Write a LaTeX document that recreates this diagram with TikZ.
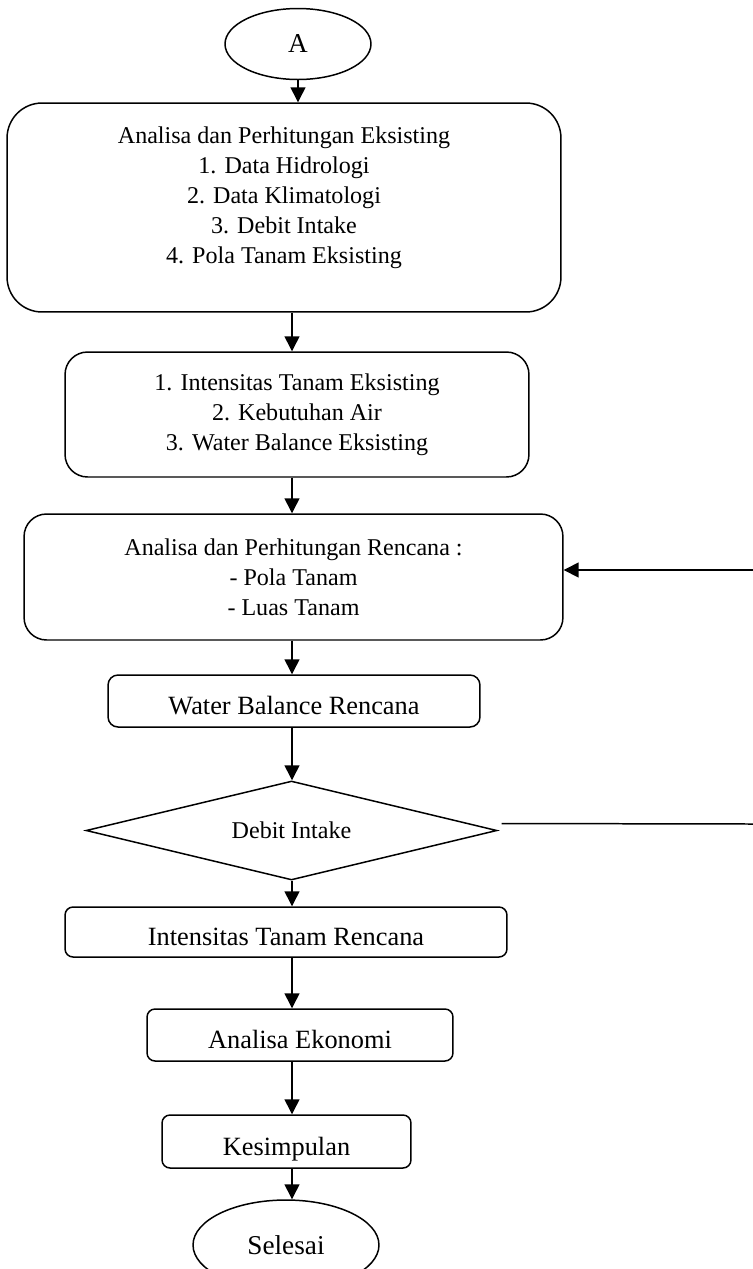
\documentclass[tikz,border=0pt]{standalone}
\usepackage{fontspec}
\setmainfont{Liberation Serif}
\usetikzlibrary{shapes.geometric,arrows.meta}

\begin{document}
\begin{tikzpicture}[x=0.02cm,y=-0.02cm,line width=0.85pt,
  flow/.style={-{Triangle[length=0.3cm,width=0.3cm]}},
  box/.style={draw,rounded corners=#1,inner sep=0pt},
  box/.default=0.16cm,
  term/.style={draw,ellipse,inner sep=0pt,font=\fontsize{15.5}{18}\selectfont},
  listtext/.style={align=center,font=\fontsize{13.7}{17}\selectfont},
  onetext/.style={font=\fontsize{15}{18}\selectfont,text height=0.65cm,text depth=0.1cm}]
\useasboundingbox (0,0) rectangle (753,1269);
\clip (0,0) rectangle (753,1269);

\coordinate (ax) at (292,0);
\coordinate (fb1) at (753,570);
\coordinate (fb2) at (753,824);

\node[term,minimum width=2.92cm,minimum height=1.42cm] (start) at (298,44) {A};

\node[box=0.7cm,minimum width=11.08cm,minimum height=4.18cm] (eks) at (284,207.5) {};
\node[listtext] (eks-lbl) at ([yshift=0.2cm]eks.center) {Analisa dan Perhitungan Eksisting\\1. Data Hidrologi\\2. Data Klimatologi\\3. Debit Intake\\4. Pola Tanam Eksisting};

\node[box=0.45cm,listtext,minimum width=9.28cm,minimum height=2.5cm] (ite) at (297,414.5) {1. Intensitas Tanam Eksisting\\2. Kebutuhan Air\\3. Water Balance Eksisting};

\node[box=0.45cm,listtext,minimum width=10.78cm,minimum height=2.52cm] (ren) at (293.5,577) {Analisa dan Perhitungan Rencana :\\- Pola Tanam\\- Luas Tanam};

\node[box=0.2cm,onetext,minimum width=7.44cm,minimum height=1.04cm] (wbr) at (294,701) {Water Balance Rencana};

\node[draw,diamond,aspect=4,inner sep=0pt,font=\fontsize{13.7}{17}\selectfont,minimum width=8.22cm,minimum height=1.98cm] (debit) at (291.5,830.5) {Debit Intake};

\node[box,onetext,minimum width=8.84cm,minimum height=1cm] (itr) at (286,932) {Intensitas Tanam Rencana};
\node[box,onetext,minimum width=6.12cm,minimum height=1.04cm] (eko) at (300,1035) {Analisa Ekonomi};
\node[box,onetext,minimum width=4.98cm,minimum height=1.06cm] (kes) at (286.5,1141.5) {Kesimpulan};

\node[term,minimum width=3.72cm,minimum height=1.8cm] (end) at (286,1245) {Selesai};

\draw[flow] (start.south) -- (start.south |- eks.north);
\draw[flow] (eks.south -| ax) -- (ite.north -| ax);
\draw[flow] (ite.south -| ax) -- (ren.north -| ax);
\draw[flow] (ren.south -| ax) -- (wbr.north -| ax);
\draw[flow] (wbr.south -| ax) -- (debit.north -| ax);
\draw[flow] (debit.south -| ax) -- (itr.north -| ax);
\draw[flow] (itr.south -| ax) -- (eko.north -| ax);
\draw[flow] (eko.south -| ax) -- (kes.north -| ax);
\draw[flow] (kes.south -| ax) -- (end.north -| ax);

\draw[flow] (fb1) -- (ren.east |- fb1);
\draw ([shift={(4,-7)}]debit.east) -- (fb2);
\end{tikzpicture}
\end{document}
